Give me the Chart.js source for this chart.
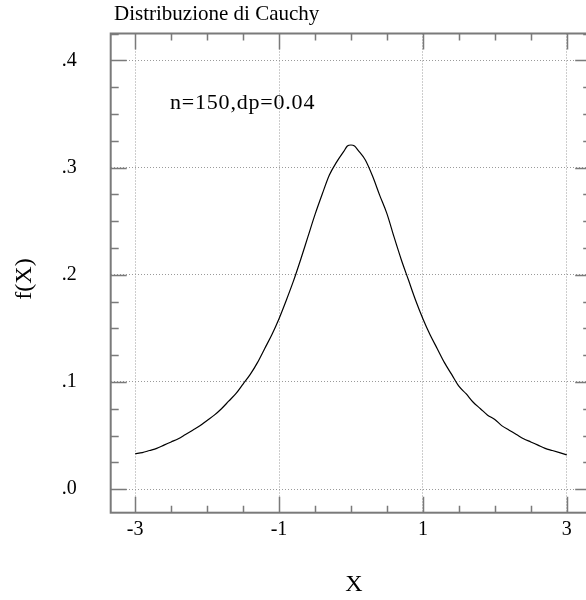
<!DOCTYPE html>
<html>
<head>
<meta charset="utf-8">
<script src="https://cdn.jsdelivr.net/npm/chart.js@4/dist/chart.umd.min.js"></script>
<style>
html,body{margin:0;padding:0;background:#fff;overflow:hidden;}
#wrap{position:relative;width:600px;height:600px;}
</style>
</head>
<body>
<div id="wrap"><canvas id="c"></canvas></div>
<script>
// ---- data ----
const chartTitle = "Distribuzione di Cauchy";
const annotationText = "n=150,dp=0.04";
const xAxisTitle = "X";
const yAxisTitle = "f(X)";

const xValues = [-3.0,-2.9,-2.8,-2.7,-2.6,-2.5,-2.4,-2.3,-2.2,-2.1,-2.0,-1.9,-1.8,-1.7,-1.6,-1.5,-1.4,-1.3,-1.2,-1.1,-1.0,
  -0.9,-0.8,-0.7,-0.6,-0.5,-0.4,-0.3,-0.2,-0.1,-0.05,0.0,0.05,0.1,0.2,0.3,0.4,0.5,0.6,0.7,0.8,0.9,1.0,
  1.1,1.2,1.3,1.4,1.5,1.6,1.7,1.8,1.9,2.0,2.1,2.2,2.3,2.4,2.5,2.6,2.7,2.8,2.9,3.0];
const fValues = [0.033,0.034,0.036,0.038,0.041,0.044,0.047,0.051,0.055,0.059,0.064,0.069,0.075,0.082,0.089,0.098,0.107,0.118,0.131,0.144,0.159,
  0.176,0.194,0.214,0.235,0.256,0.275,0.293,0.305,0.315,0.320,0.321,0.320,0.316,0.307,0.292,0.274,0.257,0.235,0.214,0.195,0.176,0.159,
  0.144,0.131,0.118,0.107,0.096,0.089,0.081,0.075,0.069,0.065,0.059,0.055,0.051,0.047,0.044,0.041,0.038,0.036,0.034,0.032];

const xTickValues = [-3,-2.5,-2,-1.5,-1,-0.5,0,0.5,1,1.5,2,2.5,3];
const xMajorValues = [-3,-1,1,3];
const xTickLabels = ["-3","-1","1","3"];
const yTickValues = [0,0.025,0.05,0.075,0.1,0.125,0.15,0.175,0.2,0.225,0.25,0.275,0.3,0.325,0.35,0.375,0.4,0.425];
const yMajorValues = [0,0.1,0.2,0.3,0.4];
const yTickLabels = [".0",".1",".2",".3",".4"];

const FONT = "'Liberation Serif','Times New Roman',serif";
const FRAME = '#7a7a7a';

function isMajor(list, v){ return list.some(m => Math.abs(m - v) < 1e-9); }
function labelFor(list, labels, v){
  const i = list.findIndex(m => Math.abs(m - v) < 1e-9);
  return i >= 0 ? labels[i] : '';
}

const framePlugin = {
  id: 'frame',
  afterDatasetsDraw(chart){
    const ctx = chart.ctx, a = chart.chartArea;
    const xs = chart.scales.x, ys = chart.scales.y;
    ctx.save();
    ctx.strokeStyle = FRAME;
    ctx.lineWidth = 2;
    ctx.strokeRect(a.left, a.top, a.right - a.left, a.bottom - a.top);
    ctx.lineWidth = 1.5;
    ctx.beginPath();
    xTickValues.forEach(v => {
      const px = Math.round(xs.getPixelForValue(v)) + 0.5;
      const len = isMajor(xMajorValues, v) ? 16 : 7;
      ctx.moveTo(px, a.bottom); ctx.lineTo(px, a.bottom - len);
      ctx.moveTo(px, a.top); ctx.lineTo(px, a.top + len);
    });
    yTickValues.forEach(v => {
      const py = Math.round(ys.getPixelForValue(v)) + 0.5;
      const len = isMajor(yMajorValues, v) ? 16 : 8;
      ctx.moveTo(a.left, py); ctx.lineTo(a.left + len, py);
      ctx.moveTo(a.right, py); ctx.lineTo(a.right - len, py);
    });
    ctx.stroke();
    ctx.restore();
  },
  afterDraw(chart){
    const ctx = chart.ctx;
    ctx.save();
    ctx.fillStyle = '#000';
    ctx.textBaseline = 'middle';
    ctx.textAlign = 'left';
    ctx.font = "21px " + FONT;
    ctx.fillText(chartTitle, 114, 14);
    ctx.font = "22px " + FONT;
    ctx.letterSpacing = "0.8px";
    ctx.fillText(annotationText, 170, 103);
    ctx.letterSpacing = "0px";
    ctx.font = "24px " + FONT;
    ctx.textAlign = 'center';
    ctx.fillText(xAxisTitle, 354, 585);
    ctx.translate(25, 279);
    ctx.rotate(-Math.PI/2);
    ctx.fillText(yAxisTitle, 0, 0);
    ctx.restore();
  }
};

new Chart(document.getElementById('c'), {
  type: 'line',
  data: {
    datasets: [{
      data: xValues.map((x, i) => ({x: x, y: fValues[i]})),
      borderColor: '#000',
      borderWidth: 1.2,
      pointRadius: 0,
      tension: 0.3,
      cubicInterpolationMode: 'monotone',
      fill: false
    }]
  },
  options: {
    responsive: true,
    maintainAspectRatio: false,
    animation: false,
    devicePixelRatio: 1,
    layout: { padding: { top: 33.5, right: 8.8, left: 0, bottom: 0 } },
    plugins: { legend: { display: false }, tooltip: { enabled: false }, title: { display: false } },
    scales: {
      x: {
        type: 'linear',
        min: -3.34, max: 3.34,
        afterBuildTicks(s){ s.ticks = xTickValues.map(v => ({value: v})); },
        afterFit(s){ s.height = 600 - 512.7; s.paddingLeft = 0; s.paddingRight = 0; },
        ticks: {
          autoSkip: false, maxRotation: 0, padding: 5,
          color: '#000', font: { family: FONT, size: 20 },
          callback: v => labelFor(xMajorValues, xTickLabels, v)
        },
        grid: {
          drawTicks: false,
          color: c => (c.tick && isMajor(xMajorValues, c.tick.value)) ? '#9a9a9a' : 'rgba(0,0,0,0)',
          lineWidth: 1
        },
        border: { display: false, dash: [1, 2] }
      },
      y: {
        type: 'linear',
        min: -0.022, max: 0.425,
        afterBuildTicks(s){ s.ticks = yTickValues.map(v => ({value: v})); },
        afterFit(s){ s.width = 110.7; s.paddingTop = 0; s.paddingBottom = 0; },
        ticks: {
          autoSkip: false, padding: 34,
          color: '#000', font: { family: FONT, size: 20 },
          callback: v => labelFor(yMajorValues, yTickLabels, v)
        },
        grid: {
          drawTicks: false,
          color: c => (c.tick && isMajor(yMajorValues, c.tick.value)) ? '#9a9a9a' : 'rgba(0,0,0,0)',
          lineWidth: 1
        },
        border: { display: false, dash: [1, 2] }
      }
    }
  },
  plugins: [framePlugin]
});
</script>
</body>
</html>
